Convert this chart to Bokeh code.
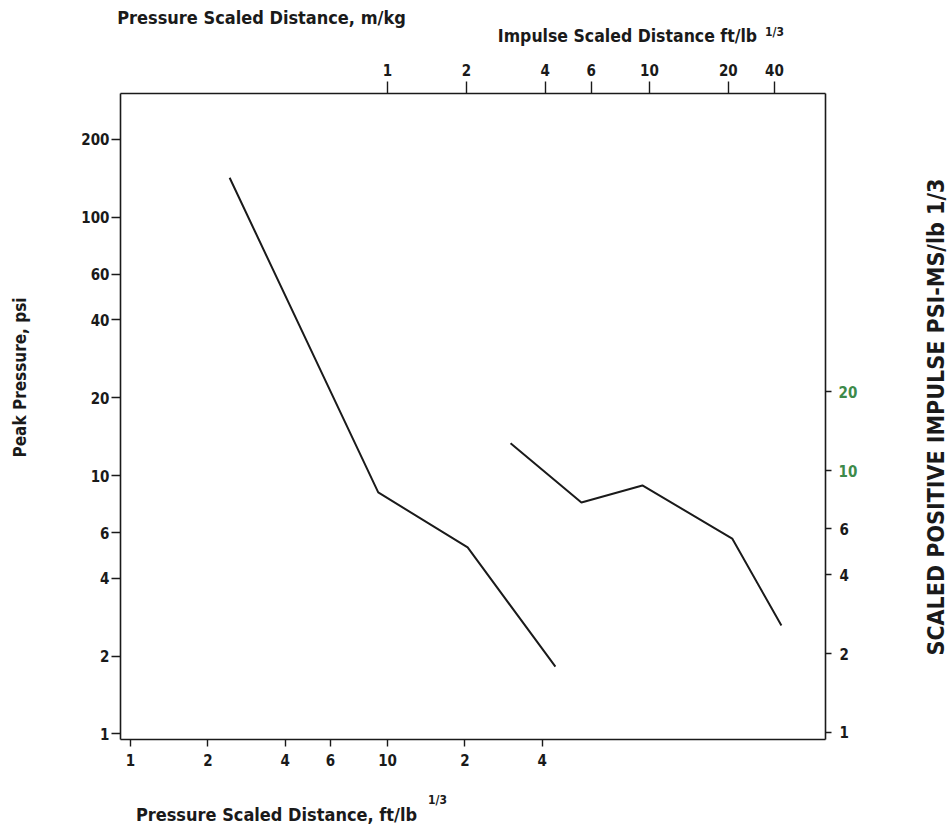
from bokeh.plotting import figure
from bokeh.models import Range1d, LogAxis, LinearAxis, FixedTicker, LogScale, LinearScale
from bokeh.embed import file_html
from bokeh.resources import INLINE
from math import pi

# ---- data ----
pressure_dist = [2.43, 9.2, 20.5, 45.0]      # ft/lb^1/3 (bottom axis)
pressure_psi = [142.0, 8.6, 5.27, 1.82]      # psi (left axis)
impulse_dist = [2.95, 5.5, 9.4, 20.7, 31.9]  # ft/lb^1/3 (top axis)
impulse_val = [12.7, 7.55, 8.77, 5.5, 2.56]  # psi-ms/lb^1/3 (right axis)

bottom_ticks = [1, 2, 4, 6, 10, 20, 40]
bottom_labels = ["1", "2", "4", "6", "10", "2", "4"]
top_ticks = [1, 2, 4, 6, 10, 20, 30]
top_labels = ["1", "2", "4", "6", "10", "20", "40"]
left_ticks = [1, 2, 4, 6, 10, 20, 40, 60, 100, 200]
right_ticks = [1, 2, 4, 6]
right_green_ticks = [10, 20]

FONT = "Liberation Sans Narrow, DejaVu Sans Condensed, Roboto"
INK = "#1a1a1a"
GREEN = "#3d8a4a"

FL, FB, FW, FH = 120, 739, 705, 646

p = figure(width=951, height=829, frame_width=FW, frame_height=FH, title=None,
           x_axis_type="log", y_axis_type="log",
           x_range=Range1d(0.914, 506), y_range=Range1d(0.951, 301),
           output_backend="svg", toolbar_location=None,
           min_border_left=120, min_border_right=126,
           min_border_top=93, min_border_bottom=90)
p.extra_x_ranges = {"top": Range1d(0.0957, 47), "px": Range1d(0, FW)}
p.extra_y_ranges = {"right": Range1d(0.94, 275), "py": Range1d(0, FH)}
p.extra_x_scales = {"top": LogScale(), "px": LinearScale()}
p.extra_y_scales = {"right": LogScale(), "py": LinearScale()}
p.xgrid.visible = False
p.ygrid.visible = False
p.outline_line_color = None
p.background_fill_color = "white"
p.border_fill_color = "white"


def style(ax, size="15px"):
    ax.axis_line_color = INK
    ax.axis_line_width = 1.6
    ax.major_tick_line_color = INK
    ax.major_tick_line_width = 1.4
    ax.major_tick_in = 0
    ax.major_tick_out = 7
    ax.minor_tick_line_color = None
    ax.major_label_text_font = FONT
    ax.major_label_text_font_size = size
    ax.major_label_text_font_style = "bold"
    ax.major_label_text_color = INK
    ax.major_label_standoff = 4


def text_axis(side, where, text, size, standoff, color=INK, orient=None):
    """An axis without line or tick marks, used only to place one text."""
    if side in ("above", "below"):
        ax = LinearAxis(x_range_name="px")
        t = int(round(where - FL))
    else:
        ax = LinearAxis(y_range_name="py")
        t = int(round(FB - where))
    ax.ticker = FixedTicker(ticks=[t])
    ax.major_label_overrides = {t: text}
    style(ax, size)
    ax.axis_line_color = None
    ax.major_tick_line_color = None
    ax.major_tick_out = 0
    ax.major_label_standoff = standoff
    ax.major_label_text_color = color
    if orient is not None:
        ax.major_label_orientation = orient
    p.add_layout(ax, side)
    return ax


# ---- real axes ----
xb = p.xaxis[0]
xb.ticker = FixedTicker(ticks=bottom_ticks)
xb.major_label_overrides = {t: l for t, l in zip(bottom_ticks, bottom_labels)}
style(xb)
xb.major_label_standoff = 7

yl = p.yaxis[0]
yl.ticker = FixedTicker(ticks=left_ticks)
yl.major_label_overrides = {t: str(t) for t in left_ticks}
style(yl)
yl.major_tick_out = 9
yl.major_label_standoff = 2

xt = LogAxis(x_range_name="top", ticker=FixedTicker(ticks=top_ticks))
xt.major_label_overrides = {t: l for t, l in zip(top_ticks, top_labels)}
style(xt)
xt.major_tick_out = 12
xt.major_label_standoff = 6
p.add_layout(xt, "above")

yr = LogAxis(y_range_name="right", ticker=FixedTicker(ticks=right_ticks + right_green_ticks))
yr.major_label_overrides = {t: ("" if t in right_green_ticks else str(t))
                            for t in right_ticks + right_green_ticks}
style(yr)
yr.major_tick_out = 6
yr.major_label_standoff = 8
p.add_layout(yr, "right")

yg = LogAxis(y_range_name="right", ticker=FixedTicker(ticks=right_green_ticks))
yg.major_label_overrides = {t: str(t) for t in right_green_ticks}
style(yg)
yg.axis_line_color = None
yg.major_tick_line_color = None
yg.major_tick_out = 0
yg.major_label_standoff = -13
yg.major_label_text_color = GREEN
p.add_layout(yg, "right")

# ---- the two curves ----
p.line(pressure_dist, pressure_psi, line_color=INK, line_width=2)
p.line(impulse_dist, impulse_val, line_color=INK, line_width=2,
       x_range_name="top", y_range_name="right")

# ---- titles, placed as texts of bare axes ----
text_axis("above", 627, "Impulse Scaled Distance ft/lb", "17.5px", 15)
text_axis("above", 774, "1/3", "12px", -16)
text_axis("above", 261, "Pressure Scaled Distance, m/kg", "18px", -6)

text_axis("below", 437, "1/3", "12px", 24)
text_axis("below", 276, "Pressure Scaled Distance, ft/lb", "18px", -6)

text_axis("left", 377, "Peak Pressure, psi", "17px", 49, orient="vertical")
text_axis("right", 655, "SCALED POSITIVE IMPULSE PSI-MS/lb 1/3", "23px", 75, orient=pi / 2)

open("out.html", "w").write(file_html(p, INLINE))
